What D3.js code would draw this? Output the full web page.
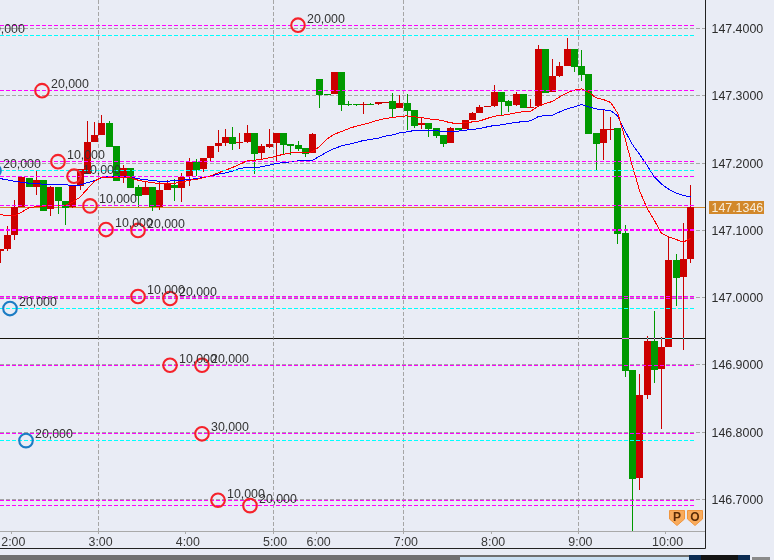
<!DOCTYPE html>
<html>
<head>
<meta charset="utf-8">
<script src="https://cdn.jsdelivr.net/npm/d3@7"></script>
<style>
html,body{margin:0;padding:0;background:#e9ecf5;overflow:hidden}
text{font-family:"Liberation Sans",Arial,sans-serif;font-size:12.4px}
</style>
</head>
<body>
<svg id="chart" width="774" height="560"></svg>
<script>
// Candle time labels (5 minute bars; the session breaks after 5:25)
const candleTimes = [
"1:50","1:55",
"2:00","2:05","2:10","2:15","2:20","2:25","2:30","2:35","2:40","2:45","2:50","2:55",
"3:00","3:05","3:10","3:15","3:20","3:25","3:30","3:35","3:40","3:45","3:50","3:55",
"4:00","4:05","4:10","4:15","4:20","4:25","4:30","4:35","4:40","4:45","4:50","4:55",
"5:00","5:05","5:10","5:15","5:20","5:25",
"6:00","6:05","6:10","6:15","6:20","6:25","6:30","6:35","6:40","6:45","6:50","6:55",
"7:00","7:05","7:10","7:15","7:20","7:25","7:30","7:35","7:40","7:45","7:50","7:55",
"8:00","8:05","8:10","8:15","8:20","8:25","8:30","8:35","8:40","8:45","8:50","8:55",
"9:00","9:05","9:10","9:15","9:20","9:25","9:30","9:35","9:40","9:45","9:50","9:55",
"10:00","10:05","10:10","10:15"];

const opens = [
147.0691,147.0721,147.0929,147.1349,147.1786,147.1657,147.1756,147.1325,147.1638,147.1434,147.1340,147.1657,
147.1846,147.2315,147.2415,147.2598,147.2251,147.1805,147.1920,147.1646,147.1523,147.1638,147.1340,147.1597,
147.1672,147.1638,147.1805,147.2018,147.1910,147.2073,147.2251,147.2296,147.2385,147.2302,147.2311,147.2445,
147.2147,147.2251,147.2296,147.2445,147.2281,147.2266,147.2222,147.2147,147.3247,147.3029,147.3024,147.3351,
147.2875,147.2871,147.2866,147.2875,147.2875,147.2905,147.2920,147.2816,147.2890,147.2786,147.2563,147.2593,
147.2519,147.2415,147.2296,147.2519,147.2504,147.2638,147.2742,147.2835,147.2846,147.3054,147.2920,147.2861,
147.3024,147.2831,147.2846,147.3693,147.3054,147.3292,147.3440,147.3693,147.3440,147.3321,147.2445,147.2296,
147.2504,147.2519,147.0958,146.8922,146.7317,146.8551,146.9353,146.8937,146.9264,147.0557,147.0304,147.0572];

const highs = [
147.0721,147.1062,147.1449,147.1795,147.1786,147.1895,147.1756,147.1661,147.1638,147.1434,147.1657,147.1910,
147.2627,147.2612,147.2712,147.2627,147.2251,147.1969,147.1920,147.1672,147.1721,147.1638,147.1721,147.1746,
147.1761,147.1846,147.2069,147.2058,147.2069,147.2251,147.2489,147.2514,147.2529,147.2445,147.2563,147.2445,
147.2291,147.2504,147.2445,147.2445,147.2281,147.2326,147.2222,147.2445,147.3247,147.3029,147.3351,147.3351,
147.2920,147.2871,147.2905,147.2895,147.2905,147.2913,147.3039,147.3009,147.3024,147.2786,147.2682,147.2593,
147.2519,147.2415,147.2534,147.2519,147.2638,147.2757,147.2861,147.2846,147.3158,147.3054,147.2935,147.3054,
147.3024,147.2950,147.3752,147.3693,147.3544,147.3500,147.3856,147.3693,147.3678,147.3321,147.2445,147.2786,
147.2682,147.2519,147.1077,146.8922,146.8863,146.9428,146.9799,146.9413,147.0899,147.0646,147.1107,147.1672];

const lows = [
147.0513,147.0691,147.0854,147.1349,147.1646,147.1523,147.1300,147.1211,147.1241,147.1077,147.1340,147.1597,
147.1846,147.2315,147.2415,147.2241,147.1736,147.1701,147.1623,147.1345,147.1523,147.1290,147.1300,147.1597,
147.1434,147.1424,147.1657,147.1805,147.1869,147.2018,147.2167,147.2251,147.2192,147.2207,147.2296,147.1835,
147.2043,147.2222,147.2028,147.2118,147.2118,147.2177,147.2088,147.2147,147.2816,147.3009,147.3024,147.2771,
147.2853,147.2846,147.2727,147.2861,147.2861,147.2895,147.2682,147.2816,147.2489,147.2519,147.2504,147.2385,
147.2370,147.2236,147.2296,147.2489,147.2504,147.2638,147.2742,147.2835,147.2831,147.2712,147.2757,147.2846,
147.2816,147.2816,147.2831,147.3039,147.3054,147.3277,147.3440,147.3351,147.3217,147.2430,147.1880,147.2043,
147.2341,147.0795,146.8818,146.6530,146.7139,146.8491,146.8729,146.8046,146.9264,146.9874,146.9220,147.0513];

const closes = [
147.0721,147.0929,147.1349,147.1795,147.1646,147.1756,147.1300,147.1646,147.1424,147.1334,147.1657,147.1905,
147.2315,147.2415,147.2589,147.2241,147.1736,147.1920,147.1623,147.1513,147.1638,147.1340,147.1597,147.1687,
147.1623,147.1795,147.2018,147.1895,147.2069,147.2251,147.2296,147.2385,147.2281,147.2311,147.2445,147.2132,
147.2251,147.2291,147.2445,147.2266,147.2251,147.2202,147.2132,147.2430,147.3009,147.3009,147.3351,147.2861,
147.2861,147.2861,147.2875,147.2866,147.2905,147.2913,147.2801,147.2890,147.2771,147.2549,147.2593,147.2504,
147.2400,147.2281,147.2519,147.2489,147.2638,147.2742,147.2831,147.2846,147.3054,147.2905,147.2846,147.3024,
147.2816,147.2841,147.3693,147.3039,147.3292,147.3440,147.3693,147.3425,147.3306,147.2430,147.2281,147.2504,
147.2514,147.0944,146.8908,146.7303,146.8551,146.9353,146.8922,146.9264,147.0557,147.0290,147.0572,147.1345];

const fastMA = [
147.1236,147.1221,147.1218,147.1271,147.1337,147.1352,147.1360,147.1367,147.1374,147.1374,147.1419,147.1493,
147.1612,147.1731,147.1791,147.1791,147.1791,147.1791,147.1783,147.1746,147.1724,147.1709,147.1694,147.1694,
147.1701,147.1716,147.1746,147.1756,147.1786,147.1810,147.1854,147.1895,147.1935,147.1984,147.2033,147.2043,
147.2058,147.2077,147.2103,147.2132,147.2152,147.2158,147.2158,147.2167,147.2251,147.2360,147.2430,147.2470,
147.2514,147.2549,147.2574,147.2604,147.2638,147.2663,147.2678,147.2693,147.2702,147.2687,147.2678,147.2657,
147.2648,147.2627,147.2598,147.2589,147.2601,147.2612,147.2627,147.2663,147.2697,147.2708,147.2727,147.2746,
147.2767,147.2767,147.2846,147.2886,147.2916,147.2984,147.3043,147.3083,147.3103,147.3054,147.2969,147.2945,
147.2901,147.2737,147.2360,147.1954,147.1587,147.1330,147.1152,147.0958,147.0903,147.0865,147.0825,147.0880];

const slowMA = [
147.1771,147.1750,147.1731,147.1716,147.1701,147.1694,147.1687,147.1682,147.1679,147.1676,147.1672,147.1672,
147.1709,147.1739,147.1783,147.1805,147.1805,147.1798,147.1791,147.1768,147.1753,147.1739,147.1731,147.1731,
147.1739,147.1746,147.1756,147.1771,147.1786,147.1805,147.1835,147.1854,147.1880,147.1920,147.1935,147.1935,
147.1944,147.1969,147.1994,147.2009,147.2018,147.2033,147.2039,147.2043,147.2103,147.2167,147.2217,147.2256,
147.2281,147.2306,147.2336,147.2351,147.2370,147.2400,147.2419,147.2449,147.2464,147.2485,147.2485,147.2479,
147.2479,147.2474,147.2470,147.2474,147.2489,147.2499,147.2514,147.2538,147.2559,147.2568,147.2589,147.2604,
147.2618,147.2627,147.2687,147.2708,147.2712,147.2761,147.2806,147.2835,147.2871,147.2835,147.2806,147.2791,
147.2782,147.2697,147.2474,147.2277,147.2128,147.1969,147.1795,147.1687,147.1612,147.1557,147.1519,147.1498];

// Orders: slot along the order ladder, level price, size, side
const orderSlots  = [-2,-1,0,1,2,3,4,5,6,8,8,10,10,12,12,13,15,18];
const orderPrices = [147.3900,147.1887,146.9839,146.7877,147.3076,147.2021,147.1805,147.1364,147.1013,147.0999,147.0018,146.9988,146.8996,146.8996,146.7978,146.6990,146.6911,147.4049];
const orderSizes  = ["20,000","20,000","20,000","20,000","20,000","10,000","10,000","10,000","10,000","20,000","10,000","20,000","10,000","20,000","30,000","10,000","20,000","20,000"];
const orderSides  = ["buy","buy","buy","buy","sell","sell","sell","sell","sell","sell","sell","sell","sell","sell","sell","sell","sell","sell"];

const priceTicks = [147.4,147.3,147.2,147.1,147.0,146.9,146.8,146.7];
const hourTicks = ["2:00","3:00","4:00","5:00","6:00","7:00","8:00","9:00","10:00"];
const gridTimes = ["3:00","5:00","7:00","9:00"];
const lastPrice = 147.1346;
const crossPrice = 146.9390;
const badges = ["P","O"];

const C = {bg:"#e9ecf5",grid:"#a6a6a6",mag:"#ff00ff",cyan:"#00ffff",up:"#cc0000",down:"#009900",
  fast:"#ff0000",slow:"#0000ff",orange:"#d2882a",frame:"#222222",axis:"#a9a9a9",text:"#2c2c2c"};

const right = 705.5, axisY = 531.5, frameY = 548.5, levelEnd = 695;
const svg = d3.select("#chart").style("display","block").style("isolation","isolate");
svg.append("rect").attr("width",774).attr("height",560).attr("fill",C.bg);

const y = d3.scaleLinear().domain([146.7,147.4]).range([499.6,28.5]);
const x = d3.scaleBand().domain(candleTimes).range([-3.7,694.2]).paddingInner(0.04).paddingOuter(0.02);
const xTick = d3.scalePoint().domain(candleTimes).range([-3.7,694.2-(697.9/candleTimes.length)]);
const xSlot = d3.scaleLinear().domain([0,18]).range([10,298]);
const rowY = v => Math.floor(v)+0.5;
const colX = v => Math.round(v)+0.5;
const bodyLeft = d => Math.round(x(d)+0.1);

// bottom window strip
const strip = svg.append("g");
const stripCols = [[0,555,689,5,"#707070"],[460,557,229,3,"#c9dff2"],[689,555,12,5,"#0c2c52"],[701,555,37,5,"#141414"],[738,555,12,5,"#0c2c52"],[752,557,18,3,"#8a8a8a"]];
strip.selectAll("rect").data(stripCols).join("rect")
  .attr("x",d=>d[0]).attr("y",d=>d[1]).attr("width",d=>d[2]).attr("height",d=>d[3]).attr("fill",d=>d[4]);

// vertical grid
svg.append("g").selectAll("line").data(gridTimes).join("line")
  .attr("x1",d=>colX(xTick(d))).attr("x2",d=>colX(xTick(d)))
  .attr("y1",0).attr("y2",axisY)
  .attr("stroke",C.grid).attr("stroke-dasharray","4 2");

// horizontal grid
svg.append("g").selectAll("line").data(priceTicks).join("line")
  .attr("x1",0).attr("x2",right)
  .attr("y1",d=>rowY(y(d))).attr("y2",d=>rowY(y(d)))
  .attr("stroke",C.grid).attr("stroke-dasharray","4 2");

// last price line
svg.append("line").attr("x1",0).attr("x2",right)
  .attr("y1",rowY(y(lastPrice))).attr("y2",rowY(y(lastPrice)))
  .attr("stroke",C.orange);

// candles
const candles = svg.append("g").attr("shape-rendering","crispEdges");
const colorOf = i => closes[i]>=opens[i] ? C.up : C.down;
candles.selectAll("line").data(candleTimes).join("line")
  .attr("x1",d=>bodyLeft(d)+3.5).attr("x2",d=>bodyLeft(d)+3.5)
  .attr("y1",(d,i)=>y(highs[i])).attr("y2",(d,i)=>y(lows[i]))
  .attr("stroke",(d,i)=>colorOf(i));
candles.selectAll("rect").data(candleTimes).join("rect")
  .attr("x",d=>bodyLeft(d))
  .attr("width",7)
  .attr("y",(d,i)=>Math.round(y(Math.max(opens[i],closes[i]))))
  .attr("height",(d,i)=>Math.max(1,Math.round(Math.abs(y(opens[i])-y(closes[i])))))
  .attr("fill",(d,i)=>colorOf(i));

// moving averages
const maLine = vals => d3.line().x(d=>x(d)+x.bandwidth()/2).y((d,i)=>y(vals[i])).curve(d3.curveLinear)(candleTimes);
svg.append("path").attr("d",maLine(slowMA)).attr("fill","none").attr("stroke",C.slow).attr("stroke-width",1).attr("shape-rendering","crispEdges");
svg.append("path").attr("d",maLine(fastMA)).attr("fill","none").attr("stroke",C.fast).attr("stroke-width",1).attr("shape-rendering","crispEdges");

// order level lines
svg.append("g").selectAll("line").data(orderPrices).join("line")
  .attr("x1",0).attr("x2",levelEnd)
  .attr("y1",d=>rowY(y(d))).attr("y2",d=>rowY(y(d)))
  .attr("stroke",(d,i)=>orderSides[i]==="buy"?C.cyan:C.mag)
  .attr("stroke-dasharray","4 2");

// cross hair (inverts what lies under it)
svg.append("line").attr("x1",0).attr("x2",right)
  .attr("y1",rowY(y(crossPrice))).attr("y2",rowY(y(crossPrice)))
  .attr("stroke","#ffffff").style("mix-blend-mode","difference");

// order markers
svg.append("g").selectAll("circle").data(orderSlots).join("circle")
  .attr("cx",d=>xSlot(d)).attr("cy",(d,i)=>y(orderPrices[i]))
  .attr("r",6.8).attr("fill","none")
  .attr("stroke",(d,i)=>orderSides[i]==="buy"?"#1b7cc4":"#f5222a").attr("stroke-width",2.1);
svg.append("g").selectAll("text").data(orderSizes).join("text")
  .attr("x",(d,i)=>xSlot(orderSlots[i])+9).attr("y",(d,i)=>y(orderPrices[i])-2.7)
  .attr("fill","#333333").text(d=>d);

// frame and axes
svg.append("line").attr("x1",0).attr("x2",right).attr("y1",axisY).attr("y2",axisY).attr("stroke",C.axis);
const xAxis = d3.axisBottom(xTick).tickValues(hourTicks).tickSize(2).tickPadding(4).tickFormat(d=>d);
const gx = svg.append("g").attr("transform",`translate(0,${axisY})`).call(xAxis);
gx.select(".domain").remove();
gx.selectAll(".tick line").attr("stroke",C.axis).attr("shape-rendering","crispEdges");
gx.selectAll(".tick text").attr("fill","#383838").attr("dx",2).style("font-family",'"Liberation Sans",Arial,sans-serif').style("font-size","12.4px");
svg.append("line").attr("x1",right).attr("x2",right).attr("y1",0).attr("y2",frameY).attr("stroke",C.frame);
svg.append("line").attr("x1",0).attr("x2",right).attr("y1",frameY).attr("y2",frameY).attr("stroke",C.frame);

const yAxis = d3.axisRight(y).tickValues(priceTicks).tickSize(0).tickPadding(6).tickFormat(d3.format(".4f"));
const gy = svg.append("g").attr("transform",`translate(${right},0)`).call(yAxis);
gy.select(".domain").remove();
gy.selectAll(".tick text").attr("fill",C.text).style("font-family",'"Liberation Sans",Arial,sans-serif').style("font-size","12.4px");

// last price tag
const tagY = y(lastPrice);
svg.append("rect").attr("x",709).attr("y",201).attr("width",55).attr("height",13).attr("fill",C.orange);
svg.append("text").attr("x",711.5).attr("y",tagY+4.4).attr("fill","#f7ecd8").text(d3.format(".4f")(lastPrice));

// P / O badges
const badgeX = d3.scalePoint().domain(badges).range([677,695]);
const badge = svg.append("g").selectAll("g").data(badges).join("g")
  .attr("transform",d=>`translate(${badgeX(d)},510)`);
badge.append("path").attr("d","M-7.5,0.5H7.5V9L0,15.5L-7.5,9Z").attr("fill","#f9ab5c").attr("stroke","#f0963e");
badge.append("text").attr("y",10.5).attr("text-anchor","middle").attr("fill","#5b2c06")
  .style("font-weight","bold").style("font-size","12px").text(d=>d);
</script>
</body>
</html>
